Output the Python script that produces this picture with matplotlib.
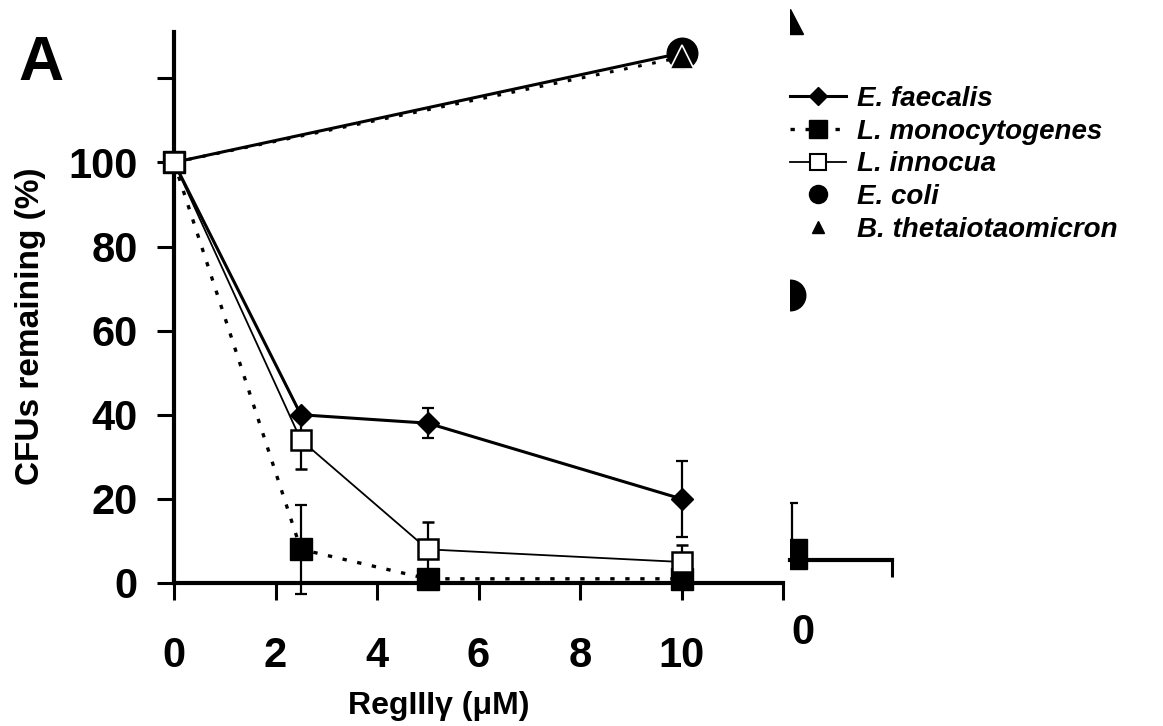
import matplotlib
matplotlib.use('Agg')
import matplotlib.pyplot as plt
from matplotlib.lines import Line2D

plt.rcParams['font.family'] = ['Liberation Sans', 'DejaVu Sans']
plt.rcParams['font.weight'] = 'bold'

# Panel A data: RegIIIgamma dose (uM) vs CFUs remaining (%)
dose = [0, 2.5, 5, 10]
faecalis = [100, 40, 38, 20]
faecalis_err = [0, 0, 3.5, 9]
monocyt = [100, 8, 1, 1]
monocyt_err = [0, 10.5, 0, 0]
innocua = [100, 34, 8, 5]
innocua_err = [0, 7, 6.5, 4]
coli_dose = [0, 10]
coli = [100, 126]
theta_dose = [0, 10]
theta = [100, 125]

# clipped edge of panel B (only the left sliver is visible)
b_theta = 128
b_coli = 63
b_mono = 1.5
b_mono_err = 12

xticks = [0, 2, 4, 6, 8, 10, 12]
xtick_labels = ['0', '2', '4', '6', '8', '10', '']
yticks = [0, 20, 40, 60, 80, 100, 120]
ytick_labels = ['0', '20', '40', '60', '80', '100', '']

W, H = 1163, 726
fig = plt.figure(figsize=(W / 100, H / 100), dpi=100)

ax = fig.add_axes([174 / W, 1 - 583 / H, (783 - 174) / W, (583 - 32) / H])
ax.set_xlim(0, 12)
ax.set_ylim(0, 131)
for s in ['top', 'right']:
    ax.spines[s].set_visible(False)
for s in ['left', 'bottom']:
    ax.spines[s].set_linewidth(3)

# upper lines (E. coli / B. theta)
ax.plot(theta_dose, theta, color='black', lw=2.2, ls=(0, (1.2, 3.5)), clip_on=False, zorder=3)
ax.plot(coli_dose, coli, color='black', lw=2.2, marker='o', ms=22, markevery=[1],
        clip_on=False, zorder=4)
ax.plot(theta_dose, theta, color='none', marker='^', ms=17, markevery=[1],
        mfc='black', mec='white', mew=1.2, clip_on=False, zorder=5)

# E. faecalis
ax.errorbar(dose, faecalis, yerr=faecalis_err, color='black', lw=2.2, marker='D', ms=11,
            elinewidth=1.6, capsize=4, capthick=1.6, clip_on=False, zorder=4)
# L. monocytogenes
ax.errorbar(dose, monocyt, yerr=monocyt_err, color='black', lw=2.4, ls=(0, (1.3, 3.2)),
            marker='s', ms=16, elinewidth=1.6, capsize=4, capthick=1.6, clip_on=False, zorder=4)
# L. innocua
ax.errorbar(dose, innocua, yerr=innocua_err, color='black', lw=1.3, marker='s', ms=15,
            mfc='white', mec='black', mew=1.8, elinewidth=1.6, capsize=4, capthick=1.6,
            clip_on=False, zorder=5)

ax.set_xticks(xticks)
ax.set_xticklabels(xtick_labels)
ax.set_yticks(yticks)
ax.set_yticklabels(ytick_labels)
ax.tick_params(axis='both', direction='out', length=12, width=2.2, labelsize=30)
ax.tick_params(axis='x', pad=26)
ax.tick_params(axis='y', pad=14)
ax.set_xlabel('RegIII\u03b3 (\u03bcM)', fontsize=23, fontweight='bold')
ax.set_ylabel('CFUs remaining (%)', fontsize=24, fontweight='bold')
ax.xaxis.set_label_coords(0.435, -0.223)
ax.yaxis.set_label_coords(-0.236, 0.466)
ax.xaxis.label.set_va('center')
ax.yaxis.label.set_va('center')

fig.text(18 / W, 1 - 80 / H, 'A', fontsize=45, fontweight='bold', ha='left', va='baseline')

# panel B sliver
ax2 = fig.add_axes([790 / W, 1 - 600 / H, (892 - 790) / W, 600 / H])
ax2.set_xlim(0, 1)
ax2.set_ylim(-40 / 4.21, 560 / 4.21)
for s in ['top', 'right', 'left']:
    ax2.spines[s].set_visible(False)
ax2.spines['bottom'].set_position(('data', 0))
ax2.spines['bottom'].set_linewidth(3)
ax2.set_yticks([])
ax2.set_xticks([0.13])
ax2.set_xticklabels(['0'])
ax2.set_xticks([1.0], minor=True)
ax2.tick_params(axis='x', which='major', length=0, labelsize=30, pad=38)
ax2.tick_params(axis='x', which='minor', direction='out', length=12, width=2.2)
ax2.patch.set_alpha(0)
ax2.plot([0], [b_theta], marker='^', ms=18, color='black', ls='none')
ax2.plot([0], [b_coli], marker='o', ms=22, color='black', ls='none')
ax2.errorbar([0.02], [b_mono], yerr=[[0], [b_mono_err]], marker='s', ms=22, color='black',
             elinewidth=1.6, capsize=4, capthick=1.6, ls='none')

handles = [
    Line2D([], [], color='black', lw=2.2, marker='D', ms=9),
    Line2D([], [], color='black', lw=2.4, ls=(0, (1.3, 3.2)), marker='s', ms=13),
    Line2D([], [], color='black', lw=1.3, marker='s', ms=12, mfc='white', mew=1.5),
    Line2D([], [], color='none', marker='o', ms=13, mfc='black', mec='black'),
    Line2D([], [], color='none', marker='^', ms=9, mfc='black', mec='black'),
]
labels = ['E. faecalis', 'L. monocytogenes', 'L. innocua', 'E. coli', 'B. thetaiotaomicron']
fig.legend(handles, labels, loc='upper left', bbox_to_anchor=(790 / W, 1 - 86 / H),
           frameon=False, handlelength=2.0, handletextpad=0.4, labelspacing=0.24,
           borderaxespad=0, borderpad=0,
           prop={'size': 20, 'weight': 'bold', 'style': 'italic'})

fig.savefig('out.png', dpi=100)
